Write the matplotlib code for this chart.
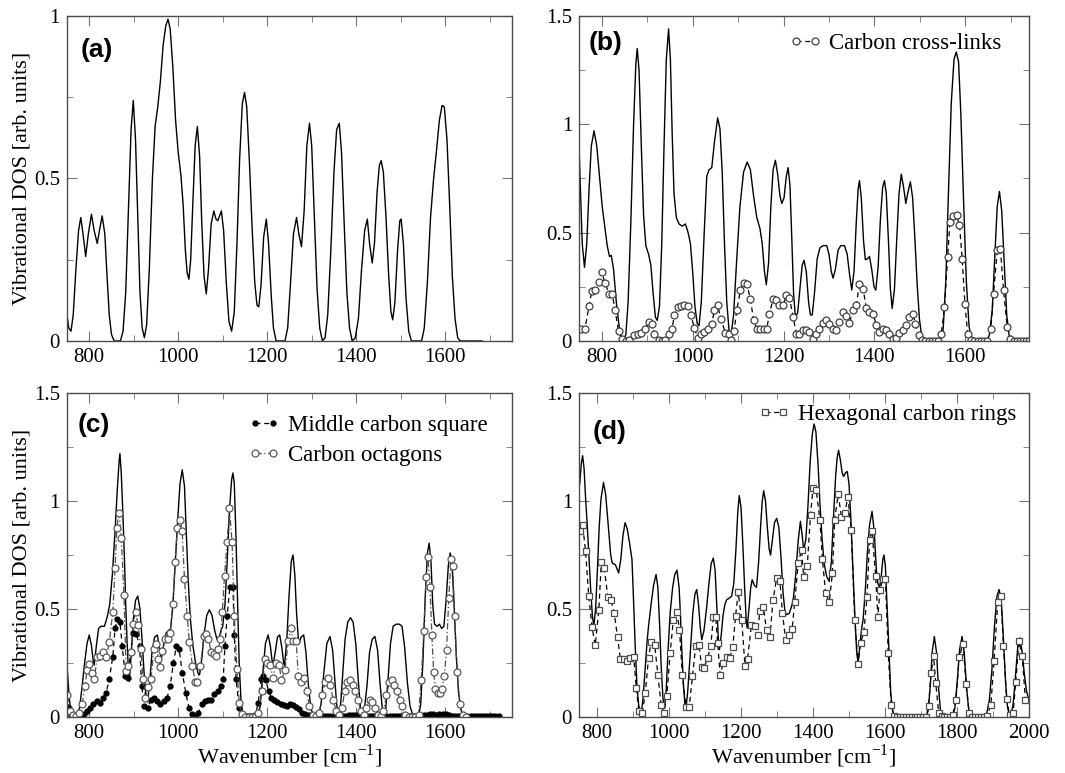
import matplotlib
matplotlib.use("Agg")
import matplotlib.pyplot as plt
from matplotlib.ticker import MultipleLocator, FormatStrFormatter

plt.rcParams["font.family"] = ["Liberation Serif", "DejaVu Serif"]

# (wavenumber, DOS) points
a_total = [(750, 0.08), (754, 0.04), (759, 0.03), (764, 0.08), (770, 0.22), (776, 0.34), (781, 0.38),
           (786, 0.33), (792, 0.26), (798, 0.33), (805, 0.39), (811, 0.34), (818, 0.30), (823, 0.34),
           (829, 0.385), (835, 0.33), (840, 0.20), (845, 0.08), (850, 0.02), (856, 0.0), (870, 0.0),
           (876, 0.03), (882, 0.15), (888, 0.40), (894, 0.65), (899, 0.74), (904, 0.62), (909, 0.38),
           (914, 0.15), (919, 0.04), (924, 0.01), (929, 0.05), (935, 0.22), (942, 0.50), (948, 0.66),
           (954, 0.72), (960, 0.80), (966, 0.91), (972, 0.97), (977, 0.99), (982, 0.96), (988, 0.84),
           (994, 0.68), (1000, 0.58), (1006, 0.51), (1011, 0.42), (1016, 0.28), (1020, 0.21), (1024, 0.19),
           (1028, 0.25), (1033, 0.43), (1038, 0.60), (1043, 0.66), (1048, 0.57), (1053, 0.36), (1058, 0.20),
           (1063, 0.145), (1068, 0.22), (1074, 0.36), (1080, 0.40), (1085, 0.375), (1089, 0.37), (1093, 0.385),
           (1097, 0.40), (1102, 0.34), (1108, 0.18), (1114, 0.06), (1120, 0.03), (1126, 0.09), (1132, 0.30),
           (1138, 0.56), (1144, 0.73), (1149, 0.765), (1154, 0.72), (1160, 0.55), (1166, 0.35), (1172, 0.18),
           (1177, 0.11), (1181, 0.105), (1186, 0.17), (1192, 0.32), (1198, 0.375), (1203, 0.30), (1209, 0.14),
           (1214, 0.04), (1220, 0.0), (1240, 0.0), (1246, 0.04), (1252, 0.17), (1259, 0.33), (1266, 0.38),
           (1271, 0.33), (1277, 0.29), (1283, 0.40), (1289, 0.60), (1295, 0.67), (1300, 0.60), (1306, 0.38),
           (1312, 0.16), (1318, 0.04), (1324, 0.0), (1330, 0.01), (1336, 0.08), (1343, 0.28), (1350, 0.52),
           (1356, 0.65), (1362, 0.67), (1367, 0.58), (1373, 0.36), (1379, 0.15), (1385, 0.04), (1391, 0.0),
           (1398, 0.01), (1405, 0.07), (1412, 0.22), (1419, 0.34), (1425, 0.375), (1430, 0.30), (1436, 0.24),
           (1441, 0.30), (1447, 0.46), (1452, 0.54), (1456, 0.555), (1461, 0.52), (1467, 0.38), (1473, 0.20),
           (1478, 0.09), (1482, 0.065), (1487, 0.12), (1493, 0.28), (1498, 0.37), (1501, 0.375), (1506, 0.30),
           (1512, 0.13), (1518, 0.03), (1524, 0.0), (1547, 0.0), (1553, 0.04), (1560, 0.18), (1567, 0.38),
           (1574, 0.50), (1580, 0.58), (1587, 0.68), (1593, 0.725), (1598, 0.72), (1604, 0.62), (1610, 0.42),
           (1616, 0.20), (1622, 0.07), (1628, 0.01), (1634, 0.0), (1683, 0.0)]

b_total = [(750, 0.90), (753, 0.70), (757, 0.45), (762, 0.34), (767, 0.45), (772, 0.70), (777, 0.90),
           (783, 0.97), (789, 0.90), (795, 0.76), (801, 0.62), (807, 0.52), (812, 0.44), (817, 0.39),
           (821, 0.395), (826, 0.33), (832, 0.18), (838, 0.07), (843, 0.02), (848, 0.0), (853, 0.03),
           (858, 0.18), (864, 0.55), (870, 1.00), (875, 1.28), (878, 1.35), (882, 1.25), (887, 0.90),
           (892, 0.58), (897, 0.44), (903, 0.40), (908, 0.35), (913, 0.22), (918, 0.11), (922, 0.095),
           (927, 0.16), (932, 0.45), (937, 0.90), (942, 1.30), (947, 1.44), (951, 1.30), (955, 0.95),
           (959, 0.68), (964, 0.57), (970, 0.54), (977, 0.53), (984, 0.54), (990, 0.50), (995, 0.45),
           (1000, 0.32), (1005, 0.16), (1010, 0.08), (1014, 0.07), (1019, 0.18), (1025, 0.48), (1031, 0.76),
           (1036, 0.79), (1042, 0.80), (1048, 0.92), (1055, 1.03), (1060, 0.98), (1065, 0.78), (1070, 0.45),
           (1075, 0.18), (1080, 0.05), (1084, 0.02), (1090, 0.12), (1097, 0.38), (1104, 0.62), (1112, 0.78),
           (1120, 0.826), (1127, 0.79), (1134, 0.67), (1141, 0.57), (1148, 0.52), (1153, 0.45), (1158, 0.32),
           (1162, 0.26), (1167, 0.36), (1172, 0.62), (1177, 0.79), (1182, 0.834), (1187, 0.77), (1192, 0.67),
           (1196, 0.635), (1201, 0.66), (1206, 0.76), (1210, 0.80), (1214, 0.72), (1218, 0.48), (1222, 0.22),
           (1226, 0.11), (1231, 0.13), (1236, 0.24), (1241, 0.35), (1245, 0.372), (1250, 0.32), (1255, 0.18),
           (1259, 0.12), (1263, 0.12), (1268, 0.22), (1274, 0.38), (1280, 0.43), (1287, 0.44), (1295, 0.44),
           (1300, 0.40), (1305, 0.32), (1309, 0.29), (1314, 0.33), (1320, 0.42), (1326, 0.44), (1334, 0.44),
           (1340, 0.40), (1345, 0.31), (1350, 0.235), (1355, 0.32), (1360, 0.55), (1364, 0.70), (1367, 0.74),
           (1371, 0.66), (1376, 0.46), (1380, 0.375), (1385, 0.38), (1389, 0.39), (1394, 0.33), (1399, 0.25),
           (1403, 0.235), (1408, 0.34), (1413, 0.56), (1418, 0.71), (1422, 0.74), (1426, 0.68), (1431, 0.45),
           (1435, 0.24), (1439, 0.15), (1444, 0.24), (1449, 0.47), (1454, 0.68), (1459, 0.77), (1464, 0.71),
           (1469, 0.635), (1474, 0.69), (1479, 0.735), (1484, 0.66), (1489, 0.47), (1494, 0.26), (1499, 0.10),
           (1504, 0.02), (1508, 0.0), (1545, 0.0), (1551, 0.05), (1557, 0.28), (1563, 0.70), (1569, 1.10),
           (1575, 1.30), (1580, 1.334), (1585, 1.29), (1590, 1.05), (1596, 0.65), (1602, 0.28), (1608, 0.07),
           (1613, 0.01), (1617, 0.0), (1648, 0.0), (1653, 0.03), (1659, 0.14), (1665, 0.40), (1670, 0.62),
           (1675, 0.69), (1680, 0.60), (1686, 0.34), (1691, 0.12), (1696, 0.03), (1700, 0.0), (1740, 0.0)]

b_crosslinks = [(754, 0.057), (763, 0.057), (772, 0.16), (778, 0.23), (785, 0.234), (793, 0.27), (800, 0.318),
                (807, 0.268), (816, 0.218), (823, 0.218), (829, 0.145), (837, 0.046), (844, 0.008), (853, 0.0),
                (861, 0.006), (870, 0.026), (879, 0.034), (887, 0.037), (895, 0.057), (903, 0.088), (910, 0.08),
                (916, 0.034), (925, 0.006), (932, 0.0), (939, 0.003), (947, 0.034), (954, 0.054), (960, 0.118),
                (967, 0.157), (975, 0.162), (982, 0.165), (989, 0.16), (996, 0.118), (1004, 0.06), (1011, 0.015),
                (1019, 0.03), (1026, 0.042), (1033, 0.057), (1042, 0.08), (1048, 0.145), (1055, 0.165),
                (1062, 0.103), (1072, 0.037), (1080, 0.034), (1085, 0.003), (1091, 0.045), (1097, 0.142),
                (1105, 0.234), (1112, 0.268), (1119, 0.262), (1127, 0.195), (1134, 0.095), (1141, 0.057),
                (1149, 0.057), (1156, 0.057), (1163, 0.057), (1169, 0.126), (1177, 0.195), (1184, 0.188),
                (1191, 0.165), (1199, 0.165), (1206, 0.21), (1213, 0.2), (1221, 0.11), (1228, 0.034),
                (1235, 0.034), (1243, 0.05), (1250, 0.052), (1257, 0.042), (1265, 0.011), (1272, 0.034),
                (1279, 0.057), (1287, 0.083), (1294, 0.095), (1301, 0.08), (1309, 0.057), (1316, 0.052),
                (1323, 0.088), (1331, 0.134), (1338, 0.114), (1345, 0.083), (1353, 0.142), (1360, 0.165),
                (1367, 0.265), (1375, 0.242), (1382, 0.15), (1389, 0.134), (1397, 0.126), (1404, 0.072),
                (1411, 0.042), (1419, 0.057), (1426, 0.052), (1433, 0.034), (1441, 0.011), (1448, 0.015),
                (1455, 0.037), (1463, 0.05), (1470, 0.072), (1477, 0.11), (1485, 0.126), (1490, 0.08),
                (1497, 0.026), (1505, 0.003), (1512, 0.0), (1519, 0.0), (1526, 0.0), (1533, 0.0), (1540, 0.0),
                (1547, 0.034), (1554, 0.157), (1561, 0.388), (1566, 0.55), (1573, 0.575), (1581, 0.58),
                (1587, 0.534), (1593, 0.38), (1599, 0.17), (1605, 0.034), (1612, 0.003), (1620, 0.0),
                (1627, 0.0), (1634, 0.0), (1641, 0.0), (1648, 0.0), (1656, 0.057), (1662, 0.218), (1670, 0.418),
                (1677, 0.426), (1684, 0.234), (1692, 0.065), (1699, 0.011), (1706, 0.0), (1713, 0.0),
                (1720, 0.0), (1727, 0.0), (1734, 0.0), (1740, 0.0)]

c_total = [(751, 0.21), (755, 0.09), (759, 0.02), (765, 0.01), (772, 0.01), (778, 0.04), (784, 0.14),
           (789, 0.24), (795, 0.34), (800, 0.38), (805, 0.33), (809, 0.26), (811, 0.24), (816, 0.33),
           (821, 0.41), (826, 0.42), (834, 0.42), (840, 0.46), (846, 0.52), (852, 0.66), (858, 0.86),
           (863, 1.05), (867, 1.18), (869, 1.22), (872, 1.13), (876, 0.92), (879, 0.74), (882, 0.52),
           (885, 0.35), (888, 0.22), (890, 0.165), (894, 0.28), (899, 0.45), (904, 0.54), (909, 0.56),
           (914, 0.50), (919, 0.35), (924, 0.18), (928, 0.09), (931, 0.07), (936, 0.16), (941, 0.30),
           (947, 0.37), (953, 0.38), (958, 0.32), (962, 0.27), (967, 0.33), (973, 0.39), (978, 0.40),
           (983, 0.41), (988, 0.52), (993, 0.70), (999, 0.92), (1004, 1.08), (1009, 1.145), (1014, 1.07),
           (1018, 0.86), (1022, 0.65), (1027, 0.46), (1033, 0.33), (1039, 0.25), (1045, 0.20), (1048, 0.196),
           (1053, 0.27), (1058, 0.38), (1064, 0.47), (1070, 0.497), (1076, 0.47), (1082, 0.40), (1087, 0.36),
           (1091, 0.36), (1096, 0.40), (1100, 0.42), (1105, 0.52), (1110, 0.72), (1115, 0.95), (1120, 1.10),
           (1123, 1.13), (1126, 1.08), (1130, 0.82), (1134, 0.48), (1137, 0.25), (1141, 0.08), (1145, 0.01),
           (1149, 0.0), (1179, 0.0), (1184, 0.05), (1190, 0.20), (1196, 0.34), (1202, 0.38), (1207, 0.33),
           (1211, 0.26), (1213, 0.24), (1218, 0.30), (1223, 0.37), (1228, 0.38), (1233, 0.32), (1237, 0.25),
           (1239, 0.24), (1244, 0.36), (1249, 0.56), (1254, 0.72), (1258, 0.75), (1262, 0.66), (1266, 0.48),
           (1270, 0.36), (1272, 0.34), (1276, 0.37), (1282, 0.38), (1287, 0.30), (1292, 0.16), (1297, 0.06),
           (1303, 0.0), (1315, 0.0), (1321, 0.06), (1327, 0.20), (1334, 0.34), (1341, 0.373), (1347, 0.31),
           (1352, 0.17), (1356, 0.06), (1360, 0.0), (1364, 0.03), (1369, 0.18), (1375, 0.36), (1381, 0.44),
           (1387, 0.46), (1393, 0.44), (1399, 0.34), (1405, 0.16), (1410, 0.03), (1413, 0.0), (1418, 0.03),
           (1424, 0.14), (1430, 0.30), (1436, 0.36), (1442, 0.373), (1448, 0.31), (1453, 0.17), (1458, 0.05),
           (1462, 0.0), (1466, 0.03), (1471, 0.16), (1477, 0.34), (1483, 0.42), (1490, 0.43), (1497, 0.43),
           (1503, 0.42), (1509, 0.32), (1515, 0.16), (1521, 0.05), (1527, 0.01), (1531, 0.0), (1540, 0.0),
           (1545, 0.06), (1550, 0.26), (1555, 0.55), (1560, 0.76), (1564, 0.805), (1568, 0.72), (1572, 0.52),
           (1576, 0.43), (1582, 0.42), (1587, 0.43), (1592, 0.41), (1597, 0.42), (1602, 0.54), (1607, 0.70),
           (1611, 0.76), (1615, 0.72), (1620, 0.52), (1625, 0.28), (1630, 0.11), (1636, 0.03), (1642, 0.0),
           (1722, 0.0)]

c_square = [(751, 0.10), (755, 0.04), (760, 0.01), (765, 0.005), (770, 0.005), (776, 0.005), (782, 0.008),
            (788, 0.015), (795, 0.03), (802, 0.04), (809, 0.06), (817, 0.075), (824, 0.067), (831, 0.09),
            (838, 0.113), (845, 0.175), (853, 0.28), (858, 0.41), (863, 0.455), (869, 0.44), (874, 0.33),
            (881, 0.19), (886, 0.18), (893, 0.30), (899, 0.39), (906, 0.385), (913, 0.33), (918, 0.144),
            (924, 0.05), (931, 0.043), (938, 0.08), (946, 0.09), (953, 0.075), (960, 0.06), (967, 0.075),
            (975, 0.09), (982, 0.144), (989, 0.25), (996, 0.33), (1002, 0.315), (1009, 0.206), (1017, 0.113),
            (1024, 0.043), (1031, 0.012), (1038, 0.005), (1045, 0.02), (1053, 0.06), (1060, 0.075),
            (1067, 0.08), (1074, 0.08), (1081, 0.105), (1089, 0.12), (1096, 0.144), (1101, 0.175), (1105, 0.33),
            (1110, 0.47), (1116, 0.60), (1123, 0.60), (1126, 0.38), (1130, 0.175), (1137, 0.043), (1145, 0.005),
            (1152, 0.003), (1159, 0.003), (1166, 0.003), (1173, 0.01), (1180, 0.067), (1186, 0.175),
            (1191, 0.19), (1197, 0.17), (1203, 0.12), (1209, 0.09), (1216, 0.08), (1223, 0.07), (1230, 0.06),
            (1237, 0.055), (1244, 0.05), (1251, 0.06), (1258, 0.055), (1265, 0.045), (1272, 0.035),
            (1279, 0.02), (1286, 0.015), (1293, 0.01), (1300, 0.005), (1307, 0.005), (1314, 0.004),
            (1321, 0.004), (1328, 0.005), (1335, 0.006), (1342, 0.006), (1349, 0.005), (1356, 0.004),
            (1363, 0.004), (1370, 0.005), (1377, 0.007), (1384, 0.008), (1391, 0.01), (1398, 0.011),
            (1405, 0.009), (1412, 0.007), (1419, 0.005), (1426, 0.005), (1433, 0.006), (1440, 0.005),
            (1447, 0.004), (1454, 0.004), (1461, 0.005), (1468, 0.005), (1475, 0.005), (1482, 0.006),
            (1489, 0.006), (1496, 0.005), (1503, 0.004), (1510, 0.003), (1517, 0.003), (1524, 0.003),
            (1531, 0.004), (1538, 0.005), (1545, 0.007), (1552, 0.009), (1559, 0.011), (1566, 0.012),
            (1573, 0.012), (1580, 0.011), (1587, 0.013), (1594, 0.015), (1601, 0.014), (1608, 0.01),
            (1615, 0.007), (1622, 0.005), (1629, 0.004), (1636, 0.003), (1643, 0.003), (1650, 0.003),
            (1657, 0.003), (1664, 0.003), (1671, 0.003), (1678, 0.003), (1685, 0.003), (1692, 0.003),
            (1699, 0.003), (1706, 0.003), (1713, 0.003), (1720, 0.003)]

c_octagon = [(751, 0.10), (757, 0.03), (763, 0.01), (770, 0.005), (777, 0.02), (784, 0.06), (791, 0.145),
             (795, 0.22), (800, 0.245), (806, 0.206), (811, 0.175), (818, 0.276), (824, 0.284), (831, 0.30),
             (838, 0.276), (845, 0.346), (853, 0.486), (858, 0.69), (862, 0.877), (867, 0.947), (872, 0.83),
             (878, 0.564), (883, 0.214), (888, 0.238), (894, 0.30), (899, 0.43), (904, 0.486), (910, 0.424),
             (916, 0.315), (921, 0.175), (926, 0.09), (933, 0.137), (939, 0.175), (945, 0.315), (950, 0.34),
             (955, 0.27), (959, 0.23), (964, 0.306), (970, 0.36), (976, 0.36), (982, 0.39), (988, 0.525),
             (993, 0.72), (998, 0.875), (1004, 0.913), (1009, 0.86), (1014, 0.64), (1020, 0.47), (1025, 0.346),
             (1032, 0.238), (1038, 0.16), (1043, 0.16), (1050, 0.238), (1058, 0.377), (1063, 0.385),
             (1068, 0.36), (1074, 0.30), (1080, 0.292), (1085, 0.284), (1090, 0.315), (1095, 0.36),
             (1099, 0.486), (1104, 0.655), (1110, 0.81), (1115, 0.967), (1121, 0.81), (1126, 0.47),
             (1132, 0.222), (1137, 0.067), (1144, 0.012), (1151, 0.0), (1158, 0.0), (1165, 0.0), (1172, 0.0),
             (1180, 0.02), (1188, 0.12), (1195, 0.27), (1200, 0.25), (1207, 0.24), (1213, 0.18), (1220, 0.25),
             (1227, 0.24), (1232, 0.17), (1240, 0.22), (1247, 0.35), (1253, 0.41), (1258, 0.35), (1265, 0.35),
             (1270, 0.19), (1277, 0.16), (1282, 0.18), (1289, 0.12), (1295, 0.05), (1302, 0.01), (1310, 0.005),
             (1317, 0.02), (1323, 0.10), (1330, 0.16), (1336, 0.18), (1342, 0.15), (1348, 0.08), (1355, 0.03),
             (1362, 0.01), (1368, 0.04), (1374, 0.12), (1380, 0.16), (1386, 0.17), (1392, 0.15), (1398, 0.12),
             (1404, 0.08), (1410, 0.03), (1417, 0.01), (1423, 0.04), (1430, 0.08), (1436, 0.07), (1442, 0.04),
             (1448, 0.01), (1455, 0.005), (1461, 0.03), (1468, 0.10), (1474, 0.16), (1480, 0.17), (1486, 0.15),
             (1492, 0.12), (1498, 0.08), (1504, 0.05), (1510, 0.01), (1518, 0.0), (1526, 0.0), (1533, 0.0),
             (1540, 0.01), (1546, 0.17), (1552, 0.40), (1557, 0.65), (1561, 0.74), (1566, 0.60), (1570, 0.38),
             (1574, 0.21), (1578, 0.13), (1583, 0.11), (1588, 0.11), (1593, 0.13), (1598, 0.19), (1603, 0.31),
             (1608, 0.55), (1613, 0.73), (1617, 0.70), (1621, 0.47), (1627, 0.21), (1633, 0.06), (1640, 0.01),
             (1647, 0.0)]

d_total = [(752, 1.08), (756, 1.17), (760, 1.21), (764, 1.15), (768, 1.02), (772, 0.91), (777, 0.76),
           (782, 0.60), (787, 0.47), (791, 0.42), (796, 0.50), (801, 0.68), (806, 0.88), (811, 1.01),
           (818, 1.086), (824, 1.03), (829, 0.93), (834, 0.83), (838, 0.75), (842, 0.713), (851, 0.705),
           (860, 0.667), (866, 0.73), (872, 0.84), (878, 0.90), (884, 0.87), (890, 0.81), (897, 0.73),
           (901, 0.56), (906, 0.33), (911, 0.14), (916, 0.05), (923, 0.02), (928, 0.09), (934, 0.235),
           (939, 0.35), (943, 0.42), (950, 0.52), (957, 0.61), (964, 0.66), (969, 0.60), (974, 0.42),
           (978, 0.24), (983, 0.09), (987, 0.04), (992, 0.12), (997, 0.30), (1003, 0.48), (1010, 0.60),
           (1016, 0.66), (1022, 0.68), (1028, 0.60), (1032, 0.46), (1035, 0.327), (1040, 0.15), (1044, 0.06),
           (1047, 0.04), (1052, 0.12), (1059, 0.296), (1066, 0.48), (1072, 0.57), (1077, 0.59), (1082, 0.52),
           (1087, 0.41), (1091, 0.358), (1097, 0.40), (1104, 0.50), (1111, 0.62), (1117, 0.71), (1123, 0.736),
           (1128, 0.68), (1133, 0.50), (1137, 0.36), (1140, 0.312), (1145, 0.38), (1150, 0.47), (1155, 0.52),
           (1160, 0.543), (1167, 0.55), (1174, 0.56), (1180, 0.62), (1186, 0.78), (1191, 0.95), (1195, 1.025),
           (1200, 0.97), (1205, 0.80), (1210, 0.60), (1214, 0.46), (1217, 0.412), (1222, 0.50), (1227, 0.60),
           (1231, 0.636), (1237, 0.61), (1243, 0.60), (1249, 0.72), (1255, 0.90), (1259, 1.00), (1263, 1.048),
           (1268, 1.00), (1273, 0.88), (1278, 0.78), (1282, 0.75), (1287, 0.82), (1293, 0.90), (1299, 0.92),
           (1305, 0.88), (1311, 0.74), (1317, 0.57), (1322, 0.49), (1326, 0.474), (1334, 0.48), (1340, 0.51),
           (1345, 0.543), (1352, 0.66), (1359, 0.82), (1365, 0.906), (1370, 0.84), (1374, 0.775), (1380, 0.82),
           (1386, 0.98), (1392, 1.18), (1398, 1.31), (1403, 1.357), (1408, 1.32), (1414, 1.17), (1419, 0.995),
           (1425, 0.83), (1431, 0.71), (1438, 0.65), (1445, 0.628), (1451, 0.72), (1457, 0.93), (1463, 1.12),
           (1467, 1.20), (1471, 1.235), (1476, 1.19), (1481, 1.13), (1485, 1.114), (1490, 1.13), (1495, 1.137),
           (1500, 1.08), (1505, 0.92), (1510, 0.72), (1516, 0.48), (1521, 0.31), (1525, 0.25), (1530, 0.33),
           (1535, 0.41), (1539, 0.45), (1545, 0.58), (1551, 0.76), (1557, 0.89), (1564, 0.952), (1570, 0.86),
           (1576, 0.68), (1580, 0.62), (1585, 0.60), (1590, 0.66), (1594, 0.73), (1597, 0.75), (1601, 0.70),
           (1606, 0.50), (1611, 0.296), (1616, 0.11), (1621, 0.03), (1626, 0.0), (1714, 0.0), (1720, 0.03),
           (1726, 0.15), (1731, 0.30), (1737, 0.373), (1743, 0.30), (1748, 0.15), (1754, 0.03), (1760, 0.0),
           (1788, 0.0), (1794, 0.04), (1800, 0.15), (1807, 0.31), (1814, 0.373), (1820, 0.30), (1826, 0.15),
           (1832, 0.04), (1839, 0.0), (1876, 0.0), (1883, 0.02), (1890, 0.08), (1897, 0.22), (1904, 0.42),
           (1911, 0.56), (1917, 0.59), (1923, 0.54), (1929, 0.36), (1935, 0.16), (1940, 0.05), (1945, 0.01),
           (1950, 0.01), (1956, 0.06), (1962, 0.18), (1969, 0.33), (1975, 0.366), (1981, 0.30), (1987, 0.20),
           (1993, 0.12), (2000, 0.08)]

d_hexagon = [(753, 0.86), (760, 0.89), (768, 0.77), (777, 0.562), (786, 0.417), (795, 0.332), (805, 0.497),
             (812, 0.72), (820, 0.69), (830, 0.556), (839, 0.54), (848, 0.48), (857, 0.369), (865, 0.268),
             (874, 0.268), (883, 0.26), (892, 0.273), (902, 0.276), (909, 0.134), (916, 0.03), (926, 0.02),
             (934, 0.111), (943, 0.273), (950, 0.346), (960, 0.335), (969, 0.196), (978, 0.057), (986, 0.02),
             (994, 0.099), (1003, 0.296), (1012, 0.45), (1022, 0.485), (1029, 0.404), (1037, 0.196),
             (1047, 0.046), (1056, 0.046), (1065, 0.188), (1074, 0.327), (1083, 0.335), (1091, 0.231),
             (1097, 0.227), (1107, 0.273), (1116, 0.327), (1123, 0.461), (1130, 0.461), (1135, 0.343),
             (1142, 0.196), (1151, 0.25), (1160, 0.278), (1169, 0.273), (1177, 0.324), (1185, 0.469),
             (1192, 0.577), (1202, 0.45), (1211, 0.235), (1218, 0.268), (1229, 0.427), (1239, 0.423),
             (1246, 0.381), (1252, 0.489), (1262, 0.508), (1271, 0.401), (1280, 0.369), (1289, 0.543),
             (1299, 0.644), (1308, 0.631), (1315, 0.481), (1324, 0.358), (1333, 0.381), (1342, 0.407),
             (1349, 0.531), (1359, 0.713), (1368, 0.775), (1374, 0.648), (1384, 0.698), (1393, 0.937),
             (1400, 1.06), (1409, 1.05), (1419, 0.914), (1426, 0.731), (1435, 0.574), (1445, 0.531),
             (1454, 0.667), (1460, 0.914), (1470, 1.032), (1479, 0.926), (1488, 0.944), (1497, 1.019),
             (1506, 0.867), (1516, 0.45), (1525, 0.245), (1532, 0.343), (1541, 0.392), (1550, 0.556),
             (1557, 0.818), (1564, 0.86), (1574, 0.651), (1580, 0.463), (1586, 0.59), (1594, 0.639),
             (1601, 0.639), (1609, 0.296), (1617, 0.057), (1626, 0.003), (1634, 0.0), (1642, 0.0), (1650, 0.0),
             (1658, 0.0), (1666, 0.0), (1674, 0.0), (1682, 0.0), (1690, 0.0), (1698, 0.0), (1706, 0.0),
             (1714, 0.0), (1721, 0.052), (1728, 0.204), (1735, 0.281), (1741, 0.157), (1749, 0.02),
             (1757, 0.006), (1765, 0.0), (1773, 0.0), (1780, 0.0), (1788, 0.01), (1797, 0.08), (1806, 0.276),
             (1817, 0.34), (1825, 0.153), (1834, 0.02), (1843, 0.0), (1851, 0.0), (1859, 0.0), (1867, 0.0),
             (1875, 0.0), (1884, 0.005), (1894, 0.057), (1903, 0.26), (1913, 0.531), (1922, 0.562),
             (1929, 0.327), (1938, 0.083), (1946, 0.01), (1956, 0.02), (1963, 0.16), (1972, 0.35),
             (1981, 0.284), (1990, 0.08)]


def xy(points):
    return [p[0] for p in points], [p[1] for p in points]


def style_axes(ax, xmax, ymax):
    ax.set_xlim(750, xmax)
    ax.set_ylim(0, ymax)
    ax.xaxis.set_major_locator(MultipleLocator(200))
    ax.xaxis.set_minor_locator(MultipleLocator(100))
    ax.yaxis.set_major_locator(MultipleLocator(0.5))
    ax.yaxis.set_minor_locator(MultipleLocator(0.25))
    ax.yaxis.set_major_formatter(FormatStrFormatter("%g"))
    ax.tick_params(which="both", direction="in", top=True, right=True,
                   labelsize=15, color="0.45", pad=5)
    ax.tick_params(which="major", length=7)
    ax.tick_params(which="minor", length=4)
    for s in ax.spines.values():
        s.set_color("0.3")
        s.set_linewidth(1.0)


def panel_label(ax, x, y, text):
    ax.text(x, y, text, transform=ax.transAxes, ha="left", va="center",
            fontsize=19, fontweight="bold", family=["Liberation Sans", "DejaVu Sans"])


fig = plt.figure(figsize=(10.65, 7.73), dpi=100)
ax_a = fig.add_axes([0.0629, 0.5589, 0.4178, 0.4204])
ax_b = fig.add_axes([0.5437, 0.5589, 0.4225, 0.4204])
ax_c = fig.add_axes([0.0629, 0.0724, 0.4178, 0.4191])
ax_d = fig.add_axes([0.5437, 0.0724, 0.4225, 0.4191])

ylabel = "Vibrational DOS [arb. units]"
xlabel = r"Wavenumber [cm$^{\mathregular{-1}}$]"
leg_kw = dict(frameon=False, fontsize=16.5, numpoints=2, handlelength=1.4,
              handletextpad=0.35, borderaxespad=0, labelspacing=0.4)

# (a)
x, y = xy(a_total)
ax_a.plot(x, y, color="k", lw=1.0)
style_axes(ax_a, 1750, 1.0)
ax_a.set_ylabel(ylabel, fontsize=16)
ax_a.yaxis.set_label_coords(-0.08, 0.5)
panel_label(ax_a, 0.03, 0.895, "(a)")

# (b)
x, y = xy(b_total)
ax_b.plot(x, y, color="k", lw=1.0)
x, y = xy(b_crosslinks)
ax_b.plot(x, y, color="k", lw=0.9, ls=(0, (4, 3)), marker="o", ms=5,
          mfc="white", mec="0.25", mew=0.9, label="Carbon cross-links")
style_axes(ax_b, 1740, 1.5)
panel_label(ax_b, 0.022, 0.917, "(b)")
ax_b.legend(loc="upper right", bbox_to_anchor=(0.96, 0.975), **leg_kw)

# (c)
x, y = xy(c_total)
ax_c.plot(x, y, color="k", lw=1.0)
x, y = xy(c_square)
ax_c.plot(x, y, color="k", lw=0.9, ls=(0, (4, 3)), marker="o", ms=3.5,
          mfc="k", mec="k", label="Middle carbon square")
x, y = xy(c_octagon)
ax_c.plot(x, y, color="0.3", lw=0.9, ls=(0, (5, 2, 1, 2)), marker="o", ms=5,
          mfc="white", mec="0.35", mew=0.9, label="Carbon octagons")
style_axes(ax_c, 1750, 1.5)
ax_c.set_ylabel(ylabel, fontsize=16)
ax_c.yaxis.set_label_coords(-0.08, 0.5)
ax_c.set_xlabel(xlabel, fontsize=16)
ax_c.xaxis.set_label_coords(0.5, -0.078)
panel_label(ax_c, 0.025, 0.901, "(c)")
ax_c.legend(loc="upper right", bbox_to_anchor=(0.966, 0.962), **leg_kw)

# (d)
x, y = xy(d_total)
ax_d.plot(x, y, color="k", lw=1.0)
x, y = xy(d_hexagon)
ax_d.plot(x, y, color="k", lw=0.9, ls=(0, (4, 3)), marker="s", ms=5,
          mfc="white", mec="0.3", mew=0.9, label="Hexagonal carbon rings")
style_axes(ax_d, 2000, 1.5)
ax_d.set_xlabel(xlabel, fontsize=16)
ax_d.xaxis.set_label_coords(0.5, -0.078)
panel_label(ax_d, 0.031, 0.88, "(d)")
ax_d.legend(loc="upper right", bbox_to_anchor=(0.993, 0.995), **leg_kw)

fig.savefig("out.png", dpi=100)
